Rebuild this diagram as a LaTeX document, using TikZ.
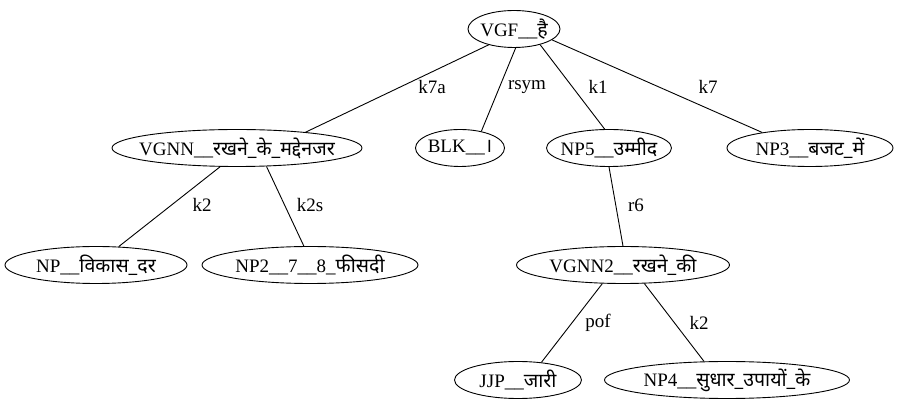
\documentclass[tikz,border=0pt]{standalone}
\usepackage{fontspec}
\setmainfont{Liberation Serif}
\newfontfamily\deva[Script=Devanagari,Scale=1.03]{Noto Sans}
\usetikzlibrary{shapes.geometric}
% Devanagari run
\newcommand{\dv}[1]{{\deva #1}}
% zero-width label so the ellipse keeps the size it is given
\newcommand{\tx}[1]{\makebox[0pt][c]{#1}}
\begin{document}
\begin{tikzpicture}[x=1pt,y=-1pt,
  tok/.style={ellipse, draw, line width=0.9pt, minimum height=37pt, inner sep=0pt,
              font=\fontsize{19}{21}\selectfont},
  rel/.style={line width=0.9pt},
  lbl/.style={font=\fontsize{19}{21}\selectfont, inner sep=0pt}]
\useasboundingbox (0,0) rectangle (900,411);

% tokens
\node[tok, minimum width=92pt]  (vgf)   at (514,29)  {\tx{VGF\_\_\dv{है}}};
\node[tok, minimum width=250pt] (vgnn)  at (237,148) {\tx{VGNN\_\_\dv{रखने\_के\_मद्देनजर}}};
\node[tok, minimum width=89pt]  (blk)   at (460,148) {\tx{BLK\_\_\dv{।}}};
\node[tok, minimum width=125pt] (np5)   at (609,148) {\tx{NP5\_\_\dv{उम्मीद}}};
\node[tok, minimum width=166pt] (np3)   at (810,148) {\tx{NP3\_\_\dv{बजट\_में}}};
\node[tok, minimum width=182pt] (np)    at (96,265)  {\tx{NP\_\_\dv{विकास\_दर}}};
\node[tok, minimum width=216pt] (np2)   at (310,265) {\tx{NP2\_\_7\_\_8\_\dv{फीसदी}}};
\node[tok, minimum width=213pt] (vgnn2) at (623,265) {\tx{VGNN2\_\_\dv{रखने\_की}}};
\node[tok, minimum width=127pt] (jjp)   at (518,380) {\tx{JJP\_\_\dv{जारी}}};
\node[tok, minimum width=245pt] (np4)   at (727,380) {\tx{NP4\_\_\dv{सुधार\_उपायों\_के}}};

% relations
\draw[rel] (vgf.212.6) -- (vgnn.13);
\draw[rel] (vgf.275)   -- (blk.38.7);
\draw[rel] (vgf.329)   -- (np5.103);
\draw[rel] (vgf.344)   -- (np3.162.6);
\draw[rel] (vgnn.228.4) -- (np.39.3);
\draw[rel] (vgnn.328)  -- (np2.108);
\draw[rel] (np5.270)   -- (vgnn2.90);
\draw[rel] (vgnn2.222) -- (jjp.37.7);
\draw[rel] (vgnn2.319.4) -- (np4.141);

% relation labels
\node[lbl] (l1) at (432,87)  {k7a};
\node[lbl] (l2) at (527,87)  {rsym};
\node[lbl] (l3) at (598,87)  {k1};
\node[lbl] (l4) at (708,87)  {k7};
\node[lbl] (l5) at (202,205) {k2};
\node[lbl] (l6) at (310,205) {k2s};
\node[lbl] (l7) at (636,205) {r6};
\node[lbl] (l8) at (598,323) {pof};
\node[lbl] (l9) at (699,323) {k2};
\end{tikzpicture}
\end{document}
